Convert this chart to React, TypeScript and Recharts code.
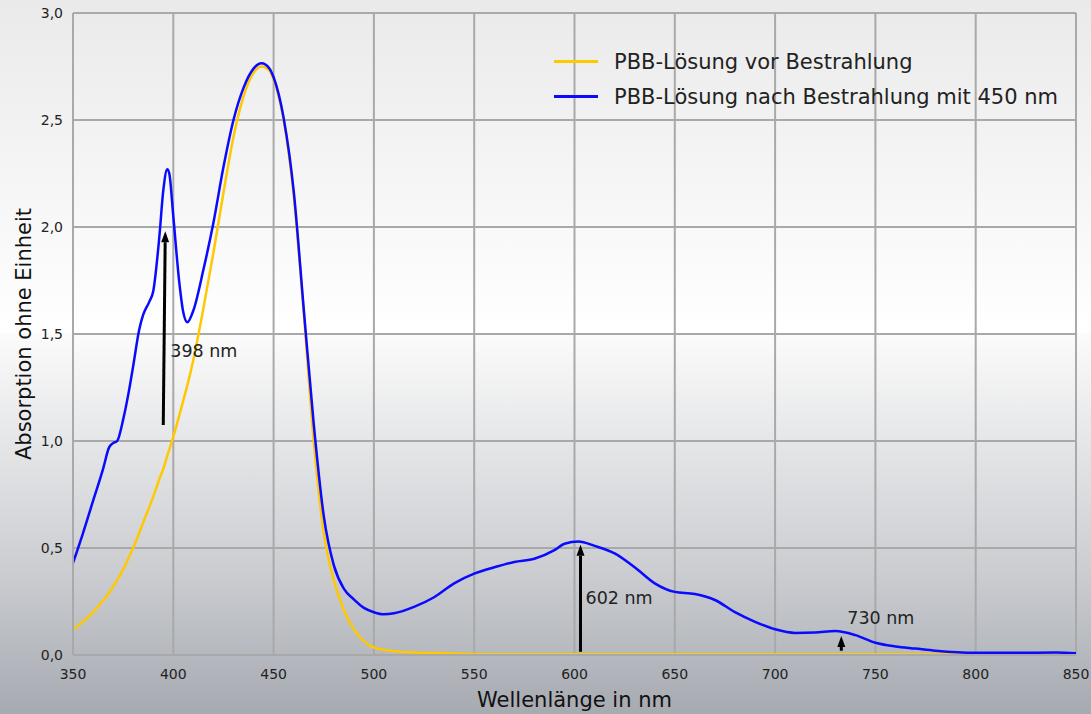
import React from 'react'
import {
  LineChart, Line, XAxis, YAxis, CartesianGrid, Legend, ReferenceLine,
} from 'recharts'

// Wellenlängen in nm (gemeinsames Raster für beide Kurven)
const WAVELENGTHS = [
  350, 355, 360, 365, 368, 370, 372, 375, 378, 380, 383, 385, 388, 390, 393, 395, 397, 398,
  400, 403, 405, 407, 410, 415, 420, 425, 430, 435, 440, 444, 448, 450, 455, 460, 465, 470,
  475, 480, 485, 490, 495, 500, 505, 510, 520, 530, 540, 550, 560, 570, 580, 590, 595, 602,
  610, 620, 630, 640, 650, 660, 670, 680, 690, 700, 710, 720, 730, 740, 750, 760, 770, 780,
  800, 820, 840, 850,
]

// PBB-Lösung vor Bestrahlung
const VOR = [
  0.12, 0.155, 0.2, 0.255, 0.29, 0.32, 0.35, 0.4, 0.46, 0.5, 0.57, 0.62, 0.69, 0.74, 0.82, 0.87, 0.93, 0.96,
  1.02, 1.12, 1.19, 1.26, 1.38, 1.62, 1.88, 2.16, 2.42, 2.61, 2.72, 2.75, 2.73, 2.69, 2.5, 2.15, 1.6, 1.0,
  0.57, 0.35, 0.21, 0.12, 0.065, 0.035, 0.025, 0.018, 0.012, 0.009, 0.007, 0.005, 0.004, 0.004, 0.004, 0.003, 0.003, 0.003,
  0.003, 0.003, 0.003, 0.003, 0.003, 0.003, 0.003, 0.003, 0.003, 0.003, 0.003, 0.003, 0.003, 0.003, 0.003, 0.003, 0.003, 0.003,
  0.003, 0.003, 0.003, 0.003,
]

// PBB-Lösung nach Bestrahlung mit 450 nm
const NACH = [
  0.43, 0.57, 0.72, 0.87, 0.97, 0.99, 1.0, 1.1, 1.24, 1.35, 1.52, 1.59, 1.65, 1.7, 1.95, 2.17, 2.27, 2.25,
  2.05, 1.74, 1.6, 1.555, 1.61, 1.8, 2.02, 2.28, 2.5, 2.65, 2.74, 2.765, 2.74, 2.7, 2.51, 2.17, 1.62, 1.08,
  0.65, 0.42, 0.31, 0.26, 0.22, 0.2, 0.19, 0.195, 0.225, 0.27, 0.335, 0.38, 0.41, 0.435, 0.45, 0.49, 0.52, 0.53,
  0.51, 0.475, 0.41, 0.335, 0.295, 0.285, 0.257, 0.2, 0.155, 0.12, 0.103, 0.105, 0.112, 0.093, 0.057, 0.04, 0.03, 0.02,
  0.01, 0.01, 0.012, 0.008,
]

const X_TICKS = [350, 400, 450, 500, 550, 600, 650, 700, 750, 800, 850]
const Y_TICKS = [0, 0.5, 1, 1.5, 2, 2.5, 3]

// Pfeile mit Beschriftung (Wellenlänge, Start- und Endwert)
const ARROW_LABELS = ['398 nm', '602 nm', '730 nm']
const ARROW_X1 = [395, 603, 733]
const ARROW_X2 = [396, 603, 733]
const ARROW_Y1 = [1.075, 0.015, 0.02]
const ARROW_Y2 = [1.98, 0.515, 0.089]

const LABEL_OFFSET: Record<string, { dx: number; dy: number }> = {
  '398 nm': { dx: 5, dy: 120 },
  '602 nm': { dx: 5, dy: 53 },
  '730 nm': { dx: 6, dy: -18 },
}

const SERIES_ORDER = ['PBB-Lösung vor Bestrahlung', 'PBB-Lösung nach Bestrahlung mit 450 nm']

const data = WAVELENGTHS.map((x, i) => ({ x, vor: VOR[i], nach: NACH[i] }))
const arrows = ARROW_LABELS.map((label, i) => ({
  label, x1: ARROW_X1[i], x2: ARROW_X2[i], y1: ARROW_Y1[i], y2: ARROW_Y2[i],
}))

const FONT = '"DejaVu Sans", Verdana, sans-serif'
const GRID = '#a9a9a9'

const fmt = (v: number) => v.toFixed(1).replace('.', ',')

function Arrow(props: any) {
  const { x1, y1, x2, y2, label } = props
  const ang = Math.atan2(y2 - y1, x2 - x1)
  const len = 11
  const w = 4
  const bx = x2 - len * Math.cos(ang)
  const by = y2 - len * Math.sin(ang)
  const px = -Math.sin(ang) * w
  const py = Math.cos(ang) * w
  const off = LABEL_OFFSET[label]
  return (
    <g>
      <line x1={x1} y1={y1} x2={bx} y2={by} stroke="#000" strokeWidth={3} />
      <polygon points={`${x2},${y2} ${bx + px},${by + py} ${bx - px},${by - py}`} fill="#000" />
      <text
        x={x2 + off.dx}
        y={y2 + off.dy}
        fontSize={17.5}
        fontFamily={FONT}
        fill="#222"
        dominantBaseline="central"
      >
        {label}
      </text>
    </g>
  )
}

function LegendContent({ payload }: any) {
  const items = [...(payload || [])].sort(
    (a: any, b: any) => SERIES_ORDER.indexOf(a.value) - SERIES_ORDER.indexOf(b.value),
  )
  return (
    <div style={{ fontFamily: FONT, fontSize: 21, color: '#222' }}>
      {items.map((p: any) => (
        <div key={p.value} style={{ display: 'flex', alignItems: 'center', height: 35 }}>
          <span style={{ display: 'inline-block', width: 44, height: 3, background: p.color, marginRight: 16 }} />
          <span>{p.value}</span>
        </div>
      ))}
    </div>
  )
}

export default function App() {
  return (
    <div
      style={{
        position: 'absolute', left: 0, top: 0, width: 1091, height: 714, overflow: 'hidden',
        background: 'linear-gradient(to bottom, #eaeaea 0%, #ffffff 46.5%, #fbfbfb 46.8%, #cbcdd1 80%, #a6aab1 100%)',
      }}
    >
      <div
        style={{
          position: 'absolute', right: 255, top: -24, fontFamily: FONT, fontSize: 21.6,
          fontWeight: 'bold', color: '#111', whiteSpace: 'nowrap',
        }}
      >
        Spektrum vor und nach Bestrahlung
      </div>
      <LineChart width={1091} height={714} data={data} margin={{ top: 13, right: 15, bottom: 0, left: 0 }}>
        <CartesianGrid stroke={GRID} strokeWidth={2} />
        <XAxis
          dataKey="x"
          type="number"
          domain={[350, 850]}
          ticks={X_TICKS}
          height={59}
          axisLine={{ stroke: GRID, strokeWidth: 2 }}
          tickLine={false}
          tickMargin={8}
          tick={{ fontSize: 14, fontFamily: FONT, fill: '#222' }}
          label={{ value: 'Wellenlänge in nm', position: 'insideBottom', offset: 7, style: { fontSize: 21, fontFamily: FONT, fill: '#111' } }}
        />
        <YAxis
          type="number"
          domain={[0, 3]}
          ticks={Y_TICKS}
          width={73}
          axisLine={{ stroke: GRID, strokeWidth: 2 }}
          tickLine={false}
          tickMargin={4}
          tickFormatter={fmt}
          tick={{ fontSize: 14, fontFamily: FONT, fill: '#222' }}
          label={{ value: 'Absorption ohne Einheit', angle: -90, position: 'insideLeft', offset: 24, style: { fontSize: 21, fontFamily: FONT, fill: '#111', textAnchor: 'middle' } }}
        />
        <Legend
          verticalAlign="middle"
          align="center"
          layout="horizontal"
          wrapperStyle={{ top: 44, left: 554, width: 'auto' }}
          content={<LegendContent />}
        />
        <Line
          type="monotone"
          dataKey="vor"
          name="PBB-Lösung vor Bestrahlung"
          stroke="#ffc800"
          strokeWidth={2.5}
          dot={false}
          isAnimationActive={false}
        />
        <Line
          type="monotone"
          dataKey="nach"
          name="PBB-Lösung nach Bestrahlung mit 450 nm"
          stroke="#0a0aff"
          strokeWidth={2.5}
          dot={false}
          isAnimationActive={false}
        />
        {arrows.map((a) => (
          <ReferenceLine
            key={a.label}
            segment={[{ x: a.x1, y: a.y1 }, { x: a.x2, y: a.y2 }]}
            shape={(p: any) => <Arrow {...p} label={a.label} />}
          />
        ))}
      </LineChart>
    </div>
  )
}
